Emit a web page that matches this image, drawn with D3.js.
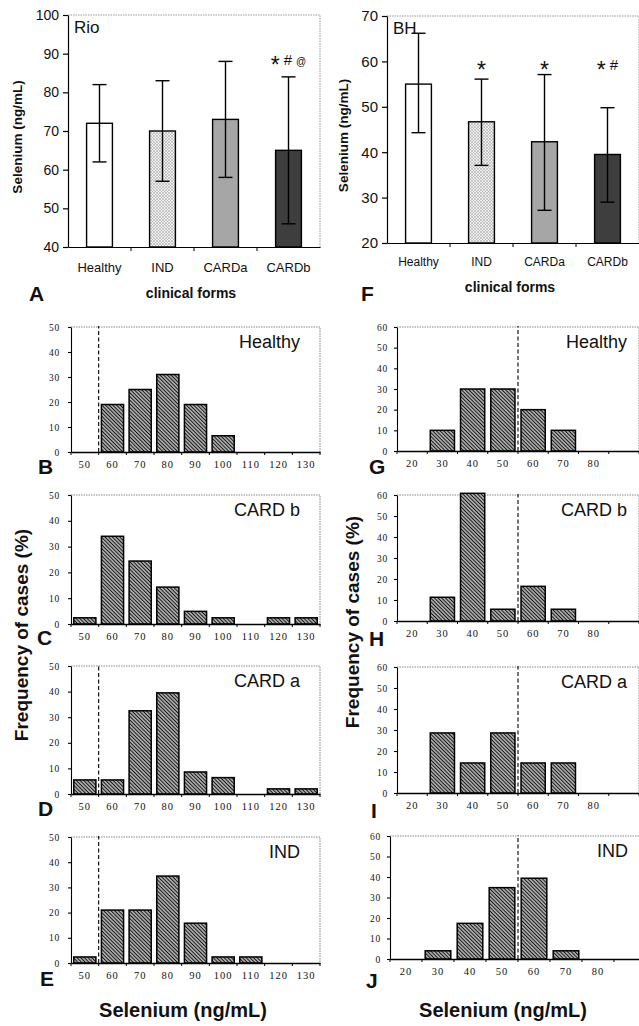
<!DOCTYPE html>
<html>
<head>
<meta charset="utf-8">
<script src="https://cdn.jsdelivr.net/npm/d3@7"></script>
<style>
body { margin: 0; background: #fff; }
svg { display: block; }
text { font-family: "Liberation Sans", Arial, sans-serif; fill: #111; }
</style>
</head>
<body>
<svg id="fig" width="639" height="1026"></svg>
<script>
// ---- data: mean selenium by clinical form ----
const barCats = ["Healthy", "IND", "CARDa", "CARDb"];
const rioMeans = [72, 70, 73, 65];
const rioLow = [62, 57, 58, 46];
const rioHigh = [82, 83, 88, 84];
const rioTicks = [40, 50, 60, 70, 80, 90, 100];
const rioMarks = ["", "", "", "*#@"];

const bhMeans = [55, 46.7, 42.3, 39.5];
const bhLow = [44.3, 37.1, 27.2, 29];
const bhHigh = [66.2, 56.1, 57.1, 49.8];
const bhTicks = [20, 30, 40, 50, 60, 70];
const bhMarks = ["", "*", "*", "*#"];

// ---- data: frequency of cases (%) per selenium bin ----
const rioBins = [50, 60, 70, 80, 90, 100, 110, 120, 130];
const rioHealthy = [0, 19, 25, 31, 19, 6.5, 0, 0, 0];
const rioCardB = [2.4, 34, 24.4, 14.3, 4.9, 2.4, 0, 2.4, 2.4];
const rioCardA = [5.5, 5.5, 32.5, 39.5, 8.6, 6.4, 0, 2, 2];
const rioInd = [2.4, 21, 21, 34.5, 15.8, 2.4, 2.4, 0, 0];
const rioFreqTicks = [0, 10, 20, 30, 40, 50];

const bhBins = [20, 30, 40, 50, 60, 70, 80, 90];
const bhBinLabels = ["20", "30", "40", "50", "60", "70", "80", ""];
const bhHealthy = [0, 10, 30, 30, 20, 10, 0, 0];
const bhCardB = [0, 11.3, 60.8, 5.6, 16.5, 5.6, 0, 0];
const bhCardA = [0, 28.6, 14.3, 28.6, 14.3, 14.3, 0, 0];
const bhInd = [0, 4, 17.4, 34.8, 39.4, 4, 0, 0];
const bhFreqTicks = [0, 10, 20, 30, 40, 50, 60];

const cutoff = 55;

const serif = '"Liberation Serif", "Times New Roman", serif';
const svg = d3.select("#fig");

// fills
const defs = svg.append("defs");
const hatch = defs.append("pattern").attr("id", "hatch")
  .attr("patternUnits", "userSpaceOnUse").attr("width", 2.6).attr("height", 2.6)
  .attr("patternTransform", "rotate(-45)");
hatch.append("rect").attr("width", 2.6).attr("height", 2.6).attr("fill", "#f4f4f4");
hatch.append("line").attr("x1", 1.3).attr("x2", 1.3).attr("y1", 0).attr("y2", 2.6)
  .attr("stroke", "#111").attr("stroke-width", 1.45);

const dots = defs.append("pattern").attr("id", "dots")
  .attr("patternUnits", "userSpaceOnUse").attr("width", 3).attr("height", 3);
dots.append("rect").attr("width", 3).attr("height", 3).attr("fill", "#f0f0f0");
dots.append("circle").attr("cx", 1).attr("cy", 1).attr("r", 0.7).attr("fill", "#808080");
dots.append("circle").attr("cx", 2.5).attr("cy", 2.5).attr("r", 0.5).attr("fill", "#a0a0a0");

const barFills = ["#fff", "url(#dots)", "#a6a6a6", "#3e3e3e"];

function barPanel(c) {
  const g = svg.append("g");
  const x = d3.scaleBand().domain(barCats).range([c.left, c.right]);
  const y = d3.scaleLinear().domain(c.domain).range([c.bottom, c.top]);
  const bw = x.bandwidth() * 0.41;
  const cx = cat => x(cat) + x.bandwidth() / 2;

  g.append("path")
    .attr("d", `M${c.left},${c.top}H${c.right}V${c.bottom}`)
    .attr("fill", "none").attr("stroke", "#999").attr("stroke-dasharray", "1.5,1");

  g.selectAll("rect.bar").data(c.means).join("rect")
    .attr("class", "bar")
    .attr("x", (d, i) => cx(barCats[i]) - bw / 2)
    .attr("y", d => y(d))
    .attr("width", bw)
    .attr("height", d => y(c.domain[0]) - y(d))
    .attr("fill", (d, i) => barFills[i])
    .attr("stroke", "#000").attr("stroke-width", 1.4);

  // error bars
  const eb = g.selectAll("g.err").data(barCats).join("g").attr("class", "err");
  eb.append("line")
    .attr("x1", d => cx(d)).attr("x2", d => cx(d))
    .attr("y1", (d, i) => y(c.low[i])).attr("y2", (d, i) => y(c.high[i]))
    .attr("stroke", "#000").attr("stroke-width", 1.4);
  [c.low, c.high].forEach(arr => {
    eb.append("line")
      .attr("x1", d => cx(d) - 7).attr("x2", d => cx(d) + 7)
      .attr("y1", (d, i) => y(arr[i])).attr("y2", (d, i) => y(arr[i]))
      .attr("stroke", "#000").attr("stroke-width", 1.4);
  });

  // y axis
  const ya = g.append("g").attr("transform", `translate(${c.left},0)`)
    .call(d3.axisLeft(y).tickValues(c.ticks).tickSize(5).tickSizeOuter(0).tickPadding(4));
  ya.selectAll("text").style("font-size", c.tickFs + "px").attr("fill", "#111");
  ya.selectAll("line,path").attr("stroke", "#000").attr("stroke-width", 1.2);

  // x axis
  const xa = g.append("g").attr("transform", `translate(0,${c.bottom})`)
    .call(d3.axisBottom(x).tickSize(0).tickPadding(c.catPad));
  xa.select(".domain").attr("stroke", "#000").attr("stroke-width", 1.2);
  xa.selectAll("text").style("font-size", c.catFs + "px").attr("fill", "#111");
  g.selectAll("line.bt").data(barCats.slice(1)).join("line").attr("class", "bt")
    .attr("x1", d => x(d)).attr("x2", d => x(d))
    .attr("y1", c.bottom).attr("y2", c.bottom + 4)
    .attr("stroke", "#000");

  // significance marks (asterisk dropped so its centre lines up with # and @)
  g.selectAll("text.mark").data(c.marks).join("text").attr("class", "mark")
    .attr("x", (d, i) => cx(barCats[i]))
    .attr("y", y(c.markAt))
    .attr("text-anchor", "middle")
    .each(function (d) {
      const t = d3.select(this);
      let shift = 0;
      [...d].forEach((ch, k) => {
        const want = ch === "*" ? 8 : 0;
        t.append("tspan").text(ch)
          .attr("dx", k ? 4 : 0)
          .attr("dy", want - shift)
          .style("font-size", ch === "*" ? "23px" : ch === "#" ? "15px" : "10px");
        shift = want;
      });
    });

  g.append("text").attr("x", c.left + 6).attr("y", c.top + 18)
    .style("font-size", "17px").text(c.city);

  g.append("text")
    .attr("transform", `translate(${c.ylabX},${(c.top + c.bottom) / 2 + 6}) rotate(-90)`)
    .attr("text-anchor", "middle")
    .style("font-size", "13.5px").style("font-weight", "bold")
    .text("Selenium (ng/mL)");

  g.append("text").attr("x", (c.left + c.right) / 2 - 3).attr("y", c.formsY)
    .attr("text-anchor", "middle")
    .style("font-size", "14px").style("font-weight", "bold")
    .text("clinical forms");

  g.append("text").attr("x", c.letterX).attr("y", c.letterY)
    .style("font-size", "21px").style("font-weight", "bold").text(c.letter);
}

function histPanel(c) {
  const g = svg.append("g");
  const x = d3.scaleBand().domain(c.bins).range([c.x0, c.x1])
    .paddingInner(0.2).paddingOuter(0.1);
  const half = (c.bins[1] - c.bins[0]) / 2;
  const xv = d3.scaleLinear()
    .domain([c.bins[0] - half, c.bins[c.bins.length - 1] + half])
    .range([c.x0, c.x1]);
  const y = d3.scaleLinear().domain([0, d3.max(c.ticks)]).range([c.y1, c.y0]);

  g.append("path")
    .attr("d", `M${c.x0},${c.y0}H${c.x1}V${c.y1}`)
    .attr("fill", "none").attr("stroke", "#888").attr("stroke-dasharray", "1.5,1");

  g.selectAll("rect").data(c.values).join("rect")
    .attr("x", (d, i) => x(c.bins[i]))
    .attr("y", d => y(d))
    .attr("width", x.bandwidth())
    .attr("height", d => y(0) - y(d))
    .attr("fill", "url(#hatch)")
    .attr("stroke", "#000").attr("stroke-width", d => d > 0 ? 1.5 : 0);

  if (c.dashed) {
    g.append("line")
      .attr("x1", xv(cutoff)).attr("x2", xv(cutoff))
      .attr("y1", c.y1).attr("y2", c.y0 - 1)
      .attr("stroke", "#000").attr("stroke-width", 1.1)
      .attr("stroke-dasharray", "4,2.5");
  }

  const ya = g.append("g").attr("transform", `translate(${c.x0},0)`)
    .call(d3.axisLeft(y).tickValues(c.ticks).tickSize(3).tickSizeOuter(0).tickPadding(c.yPad));
  ya.selectAll("text").style("font-family", serif).style("font-size", "9.5px")
    .style("letter-spacing", "0.8px").attr("fill", "#222");
  ya.selectAll("line,path").attr("stroke", "#000").attr("stroke-width", 1.1);

  const xa = g.append("g").attr("transform", `translate(0,${c.y1})`)
    .call(d3.axisBottom(x).tickSize(0).tickPadding(9).tickFormat((d, i) => c.labels[i]));
  xa.select(".domain").attr("stroke", "#000").attr("stroke-width", 1.3);
  xa.selectAll("text").style("font-family", serif).style("font-size", "10.5px")
    .style("letter-spacing", "1px").attr("fill", "#222");
  const edges = c.bins.map(b => b - half).concat([c.bins[c.bins.length - 1] + half]);
  g.selectAll("line.bt").data(edges).join("line").attr("class", "bt")
    .attr("x1", d => xv(d)).attr("x2", d => xv(d))
    .attr("y1", c.y1).attr("y2", c.y1 + 3)
    .attr("stroke", "#000");

  g.append("text").attr("x", c.nameX).attr("y", c.y0 + 21)
    .attr("text-anchor", "end").style("font-size", "18px").text(c.name);

  g.append("text").attr("x", c.letterX).attr("y", c.letterY)
    .style("font-size", "21px").style("font-weight", "bold").text(c.letter);
}

barPanel({
  left: 68, right: 320, top: 15, bottom: 247, domain: [40, 100], ticks: rioTicks,
  means: rioMeans, low: rioLow, high: rioHigh, marks: rioMarks, markAt: 87,
  tickFs: 14, catFs: 13, catPad: 16, city: "Rio", ylabX: 22, formsY: 298,
  letter: "A", letterX: 29, letterY: 301
});
barPanel({
  left: 387, right: 639, top: 16, bottom: 243, domain: [20, 70], ticks: bhTicks,
  means: bhMeans, low: bhLow, high: bhHigh, marks: bhMarks, markAt: 58,
  tickFs: 15, catFs: 12, catPad: 14, city: "BH", ylabX: 348, formsY: 292,
  letter: "F", letterX: 361, letterY: 301
});

const leftCol = { x0: 71, x1: 320, bins: rioBins, labels: rioBins.map(String), ticks: rioFreqTicks, yPad: 8, nameX: 300 };
const rightCol = { x0: 397, x1: 639, bins: bhBins, labels: bhBinLabels, ticks: bhFreqTicks, yPad: 6, nameX: 627 };

histPanel({ ...leftCol, y0: 327, y1: 452, values: rioHealthy, name: "Healthy", dashed: true, letter: "B", letterX: 38, letterY: 474 });
histPanel({ ...leftCol, y0: 495, y1: 624, values: rioCardB, name: "CARD b", dashed: false, letter: "C", letterX: 37, letterY: 645 });
histPanel({ ...leftCol, y0: 666, y1: 794, values: rioCardA, name: "CARD a", dashed: true, letter: "D", letterX: 38, letterY: 816 });
histPanel({ ...leftCol, y0: 837, y1: 963, values: rioInd, name: "IND", dashed: true, letter: "E", letterX: 40, letterY: 986 });

histPanel({ ...rightCol, y0: 327, y1: 451, values: bhHealthy, name: "Healthy", dashed: true, letter: "G", letterX: 369, letterY: 474 });
histPanel({ ...rightCol, y0: 495, y1: 621, values: bhCardB, name: "CARD b", dashed: true, letter: "H", letterX: 369, letterY: 646 });
histPanel({ ...rightCol, y0: 667, y1: 793, values: bhCardA, name: "CARD a", dashed: true, letter: "I", letterX: 371, letterY: 818 });
histPanel({ ...rightCol, x0: 390, x1: 646, y0: 836, y1: 959, values: bhInd, name: "IND", nameX: 628, dashed: true, letter: "J", letterX: 366, letterY: 988 });

// shared axis titles
[[28, 635], [359, 622]].forEach(([tx, ty]) => {
  svg.append("text")
    .attr("transform", `translate(${tx},${ty}) rotate(-90)`)
    .attr("text-anchor", "middle")
    .style("font-size", "19px").style("font-weight", "bold")
    .text("Frequency of cases (%)");
});
[183, 503].forEach(tx => {
  svg.append("text").attr("x", tx).attr("y", 1017)
    .attr("text-anchor", "middle")
    .style("font-size", "20px").style("font-weight", "bold")
    .text("Selenium (ng/mL)");
});
</script>
</body>
</html>
